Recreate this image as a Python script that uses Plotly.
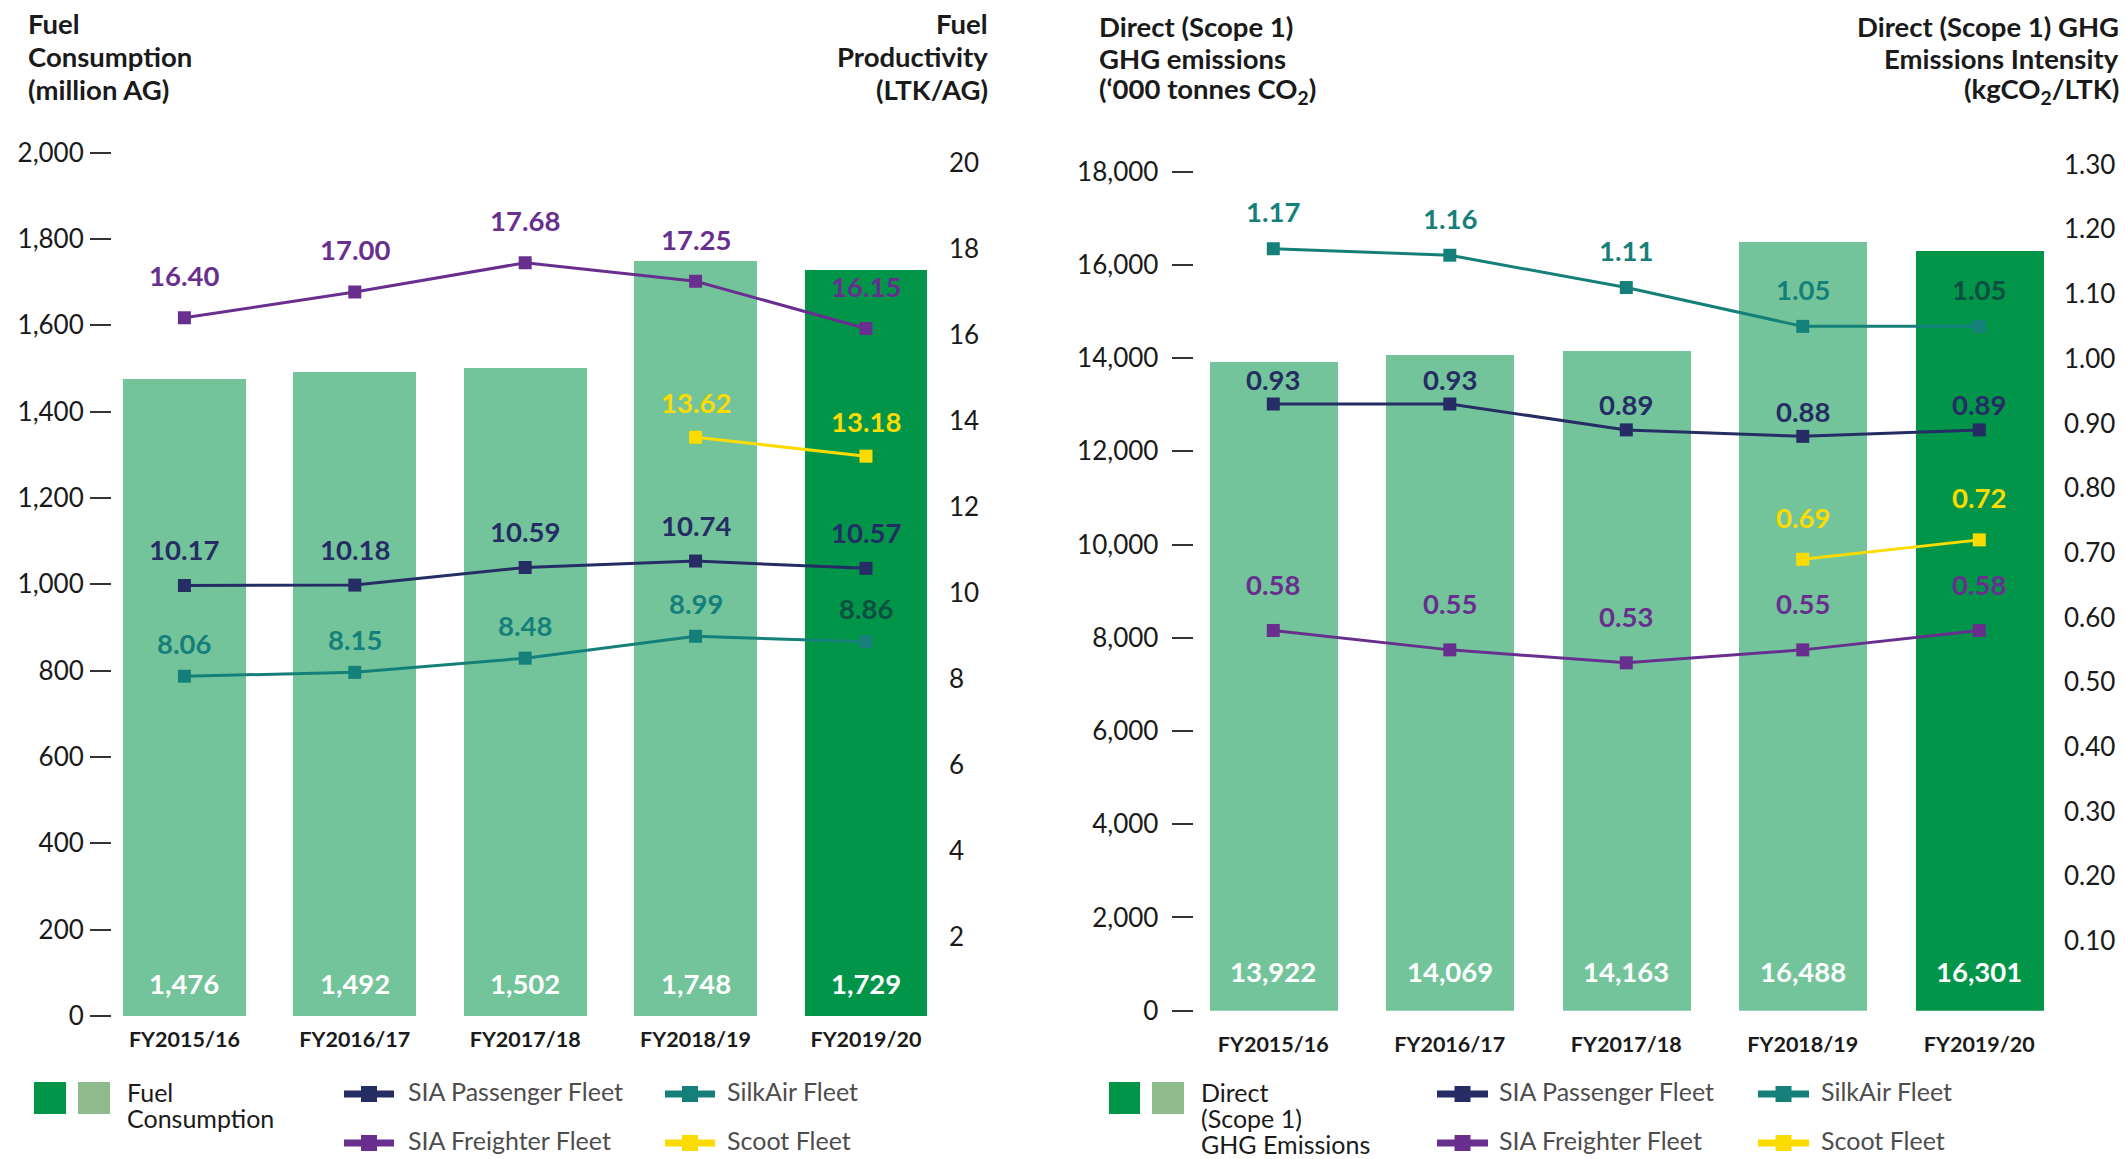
import plotly.graph_objects as go

# ---- data -------------------------------------------------------------
years = ["FY2015/16", "FY2016/17", "FY2017/18", "FY2018/19", "FY2019/20"]

fuel_consumption = [1476, 1492, 1502, 1748, 1729]          # million AG
prod_passenger = [10.17, 10.18, 10.59, 10.74, 10.57]       # LTK/AG
prod_silkair = [8.06, 8.15, 8.48, 8.99, 8.86]
prod_freighter = [16.40, 17.00, 17.68, 17.25, 16.15]
prod_scoot = [None, None, None, 13.62, 13.18]

ghg_emissions = [13922, 14069, 14163, 16488, 16301]        # '000 tonnes CO2
int_passenger = [0.93, 0.93, 0.89, 0.88, 0.89]             # kgCO2/LTK
int_silkair = [1.17, 1.16, 1.11, 1.05, 1.05]
int_freighter = [0.58, 0.55, 0.53, 0.55, 0.58]
int_scoot = [None, None, None, 0.69, 0.72]

fuel_ticks = list(range(0, 2001, 200))
prod_ticks = list(range(2, 21, 2))
ghg_ticks = list(range(0, 18001, 2000))
int_ticks = [0.10, 0.20, 0.30, 0.40, 0.50, 0.60, 0.70, 0.80, 0.90, 1.00, 1.10, 1.20, 1.30]

# ---- styles -----------------------------------------------------------
W, H = 2125, 1159
FONT = "Lato"
LIGHT_GREEN = "#74c49b"
DARK_GREEN = "#01954a"
LEGEND_LIGHT = "#8fbb8d"
NAVY = "#252d64"
TEAL = "#15807a"
PURPLE = "#692f8f"
YELLOW = "#fcdc00"
TEXT = "#1a1a1a"
LEGEND_GREY = "#4d4d4d"
bar_colors = [LIGHT_GREEN] * 4 + [DARK_GREEN]
VALUE_SIZE = 27.5


def fx(x):
    return x / W


def fy(y):
    return 1 - y / H


fig = go.Figure()

# ---- left panel: fuel consumption & productivity ----------------------
fig.add_trace(go.Bar(x=years, y=fuel_consumption, marker=dict(color=bar_colors, line=dict(width=0)),
                     width=0.72, xaxis="x", yaxis="y", hoverinfo="skip", showlegend=False))

left_lines = [
    (prod_freighter, PURPLE, 42),
    (prod_passenger, NAVY, 36),
    (prod_silkair, TEAL, 33),
    (prod_scoot, YELLOW, 35),
]
right_lines = [
    (int_silkair, TEAL, 37),
    (int_passenger, NAVY, 25),
    (int_freighter, PURPLE, 46),
    (int_scoot, YELLOW, 42),
]

annotations = []


def add_lines(series, xa, ya, fmt):
    for values, color, lift in series:
        fig.add_trace(go.Scatter(
            x=years, y=values, mode="lines+markers", xaxis=xa, yaxis=ya,
            line=dict(color=color, width=3),
            marker=dict(symbol="square", size=13, color=color),
            hoverinfo="skip", showlegend=False, connectgaps=False))
        for i, (yr, v) in enumerate(zip(years, values)):
            if v is None:
                continue
            c = color
            if color == TEAL and i == len(years) - 1:
                c = "#0d4f40"  # teal label sitting on the dark bar
            annotations.append(dict(
                x=yr, y=v, xref=xa, yref=ya, text=fmt.format(v), showarrow=False,
                yshift=lift, yanchor="middle", xanchor="center",
                font=dict(family=FONT, size=VALUE_SIZE, color=c, weight="bold")))


add_lines(left_lines, "x", "y2", "{:.2f}")

for yr, v in zip(years, fuel_consumption):
    annotations.append(dict(x=yr, y=0, xref="x", yref="y", text=f"{v:,}", showarrow=False,
                            yshift=33, yanchor="middle",
                            font=dict(family=FONT, size=VALUE_SIZE, color="white", weight="bold")))

# ---- right panel: direct GHG emissions & intensity --------------------
fig.add_trace(go.Bar(x=years, y=ghg_emissions, marker=dict(color=bar_colors, line=dict(width=0)),
                     width=0.725, xaxis="x2", yaxis="y3", hoverinfo="skip", showlegend=False))

add_lines(right_lines, "x2", "y4", "{:.2f}")

for yr, v in zip(years, ghg_emissions):
    annotations.append(dict(x=yr, y=0, xref="x2", yref="y3", text=f"{v:,}", showarrow=False,
                            yshift=39, yanchor="middle",
                            font=dict(family=FONT, size=VALUE_SIZE, color="white", weight="bold")))

# ---- axis titles (one annotation per line for tight leading) ---------
title_font = dict(family=FONT, size=27.5, color=TEXT, weight="bold")


def title_block(x, anchor, y_lines, lines):
    for y, line in zip(y_lines, lines):
        annotations.append(dict(x=fx(x), y=fy(y), xref="paper", yref="paper", xanchor=anchor,
                                yanchor="middle", text=line, showarrow=False, font=title_font))


title_block(26, "left", [24, 56.5, 89], ["Fuel", "Consumption", "(million AG)"])
title_block(990, "right", [24, 56.5, 89], ["Fuel", "Productivity", "(LTK/AG)"])
title_block(1097, "left", [26, 58.5, 91],
            ["Direct (Scope 1)", "GHG emissions", "(‘000 tonnes CO<sub>2</sub>)"])
title_block(2121, "right", [26, 58.5, 91],
            ["Direct (Scope 1) GHG", "Emissions Intensity", "(kgCO<sub>2</sub>/LTK)"])

# ---- legends ----------------------------------------------------------
shapes = []


def legend_text(x, y, text, color=LEGEND_GREY):
    annotations.append(dict(x=fx(x), y=fy(y - 3), xref="paper", yref="paper", xanchor="left",
                            yanchor="middle", text=text, showarrow=False,
                            font=dict(family=FONT, size=25, color=color)))


def legend_swatch(x0, x1, y0, y1, color):
    shapes.append(dict(type="rect", xref="paper", yref="paper", x0=fx(x0), x1=fx(x1), y0=fy(y1), y1=fy(y0),
                       fillcolor=color, line=dict(width=0)))


def legend_line(x0, x1, y, color):
    shapes.append(dict(type="line", xref="paper", yref="paper", x0=fx(x0), x1=fx(x1), y0=fy(y), y1=fy(y),
                       line=dict(color=color, width=7)))
    xc = (x0 + x1) / 2
    legend_swatch(xc - 8, xc + 8, y - 8, y + 8, color)


# left legend
legend_swatch(34, 66, 1082, 1114, DARK_GREEN)
legend_swatch(78, 110, 1082, 1114, LEGEND_LIGHT)
legend_text(125, 1095, "Fuel", TEXT)
legend_text(125, 1121, "Consumption", TEXT)
legend_line(344, 394, 1094, NAVY)
legend_text(406, 1094, "SIA Passenger Fleet")
legend_line(665, 715, 1094, TEAL)
legend_text(725, 1094, "SilkAir Fleet")
legend_line(344, 394, 1143, PURPLE)
legend_text(406, 1143, "SIA Freighter Fleet")
legend_line(665, 715, 1143, YELLOW)
legend_text(725, 1143, "Scoot Fleet")

# right legend
legend_swatch(1109, 1140, 1082, 1114, DARK_GREEN)
legend_swatch(1152, 1184, 1082, 1114, LEGEND_LIGHT)
legend_text(1199, 1095, "Direct", TEXT)
legend_text(1199, 1121, "(Scope 1)", TEXT)
legend_text(1199, 1147, "GHG Emissions", TEXT)
legend_line(1437, 1488, 1094, NAVY)
legend_text(1497, 1094, "SIA Passenger Fleet")
legend_line(1758, 1809, 1094, TEAL)
legend_text(1819, 1094, "SilkAir Fleet")
legend_line(1437, 1488, 1143, PURPLE)
legend_text(1497, 1143, "SIA Freighter Fleet")
legend_line(1758, 1809, 1143, YELLOW)
legend_text(1819, 1143, "Scoot Fleet")

# ---- axes -------------------------------------------------------------
tick_font = dict(family=FONT, size=26, color=TEXT)
cat_font = dict(family=FONT, size=21.5, color=TEXT, weight="bold")
common = dict(showgrid=False, zeroline=False, showline=False, automargin=False, fixedrange=True)

fig.update_layout(
    width=W, height=H,
    margin=dict(l=0, r=0, t=0, b=0),
    paper_bgcolor="white", plot_bgcolor="rgba(0,0,0,0)",
    showlegend=False,
    bargap=0,
    xaxis=dict(domain=[fx(112), fx(944)], range=[-0.425, 4.458], type="category", ticks="",
               tickfont=cat_font, ticklabelstandoff=8, anchor="y", **common),
    yaxis=dict(domain=[fy(1016), fy(145)], range=[0, 2017.8], tickvals=fuel_ticks, tickformat=",",
               ticks="outside", ticklen=21, tickwidth=1.5, tickcolor="#333", tickfont=tick_font,
               ticklabelstandoff=1, anchor="x", **common),
    yaxis2=dict(domain=[fy(1016), fy(145)], range=[0.154, 20.42], tickvals=prod_ticks, overlaying="y",
                side="right", ticks="", tickfont=tick_font, ticklabelstandoff=4, anchor="x", **common),
    xaxis2=dict(domain=[fx(1193.6), fx(2058)], range=[-0.4516, 4.446], type="category", ticks="",
                tickfont=cat_font, ticklabelstandoff=19, anchor="y3", **common),
    yaxis3=dict(domain=[fy(1010.7), fy(150)], range=[0, 18465], tickvals=ghg_ticks, tickformat=",",
                ticks="outside", ticklen=21, tickwidth=1.5, tickcolor="#333", tickfont=tick_font,
                ticklabelstandoff=8, anchor="x2", **common),
    yaxis4=dict(domain=[fy(1010.7), fy(150)], range=[-0.0077, 1.3226], tickvals=int_ticks, tickformat=".2f",
                overlaying="y3", side="right", ticks="", tickfont=tick_font, ticklabelstandoff=5,
                anchor="x2", **common),
    annotations=annotations,
    shapes=shapes,
)

fig.write_html("out.html")
